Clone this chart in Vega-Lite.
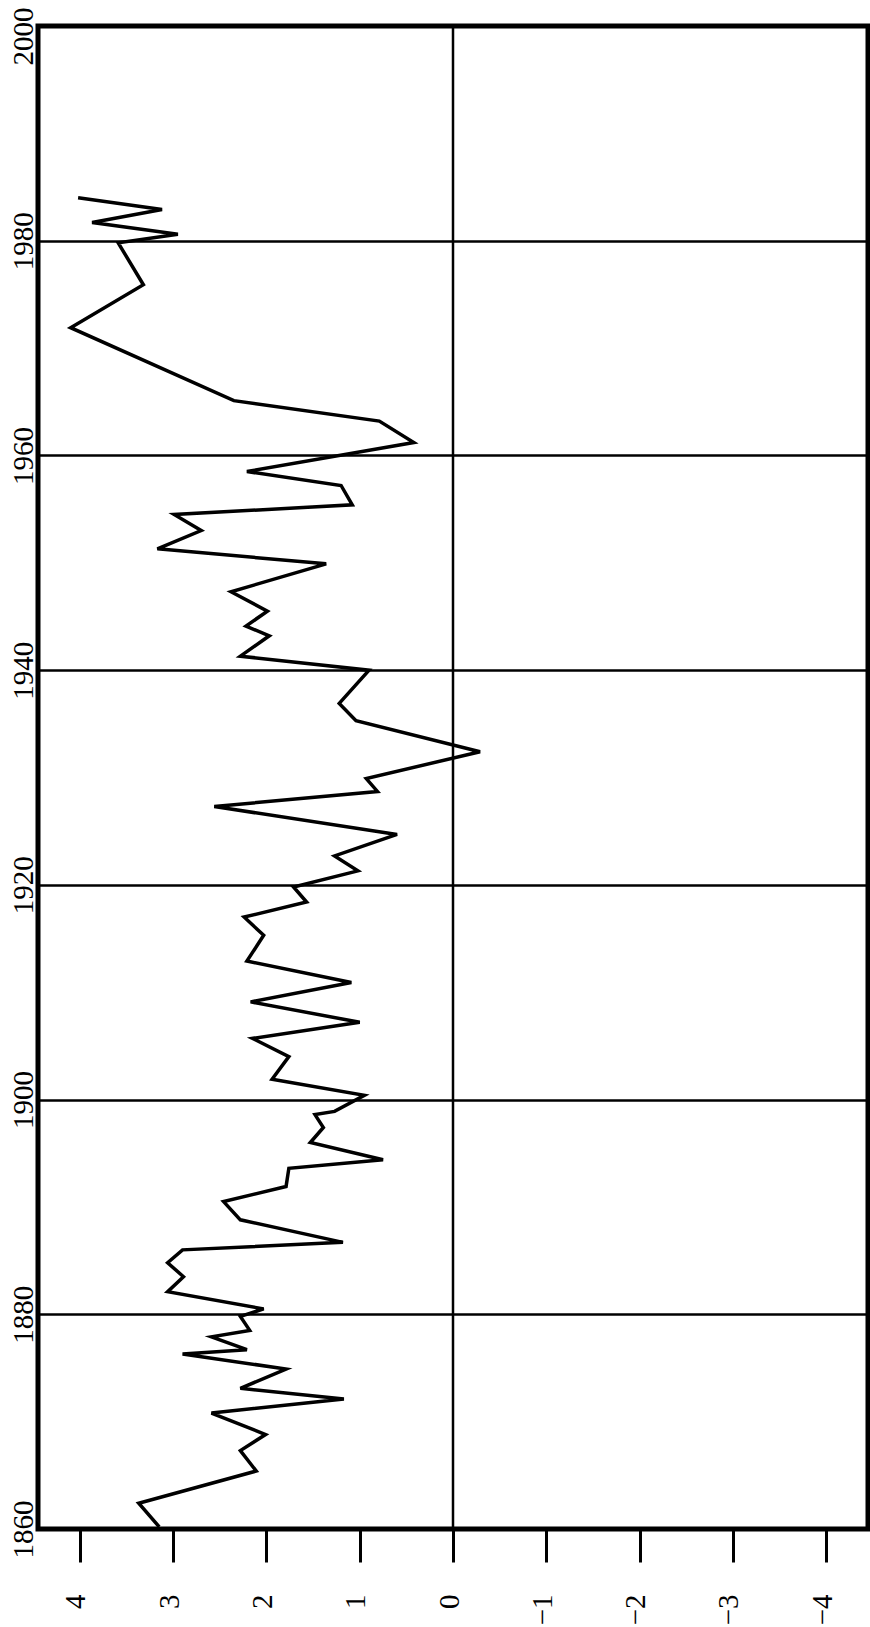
{
  "$schema": "https://vega.github.io/schema/vega-lite/v6.json",
  "width": 830,
  "height": 1503,
  "autosize": {"type": "none"},
  "padding": {"left": 38, "top": 26, "right": 2, "bottom": 98},
  "background": "white",
  "config": {"view": {"stroke": "black", "strokeWidth": 5}, "font": "Liberation Serif"},
  "data": {"values": [
    {"year": 1860.2, "value": 3.15},
    {"year": 1862.4, "value": 3.37},
    {"year": 1865.4, "value": 2.11},
    {"year": 1867.3, "value": 2.28},
    {"year": 1868.8, "value": 2.01},
    {"year": 1870.8, "value": 2.59},
    {"year": 1872.1, "value": 1.17},
    {"year": 1873.1, "value": 2.28},
    {"year": 1874.9, "value": 1.79},
    {"year": 1876.3, "value": 2.90},
    {"year": 1876.7, "value": 2.21},
    {"year": 1877.9, "value": 2.59},
    {"year": 1878.5, "value": 2.18},
    {"year": 1879.8, "value": 2.28},
    {"year": 1880.5, "value": 2.03},
    {"year": 1882.1, "value": 3.06},
    {"year": 1883.5, "value": 2.89},
    {"year": 1884.8, "value": 3.06},
    {"year": 1886.0, "value": 2.90},
    {"year": 1886.7, "value": 1.18},
    {"year": 1888.8, "value": 2.28},
    {"year": 1890.5, "value": 2.46},
    {"year": 1891.9, "value": 1.79},
    {"year": 1893.6, "value": 1.76},
    {"year": 1894.4, "value": 0.75},
    {"year": 1896.0, "value": 1.53},
    {"year": 1897.4, "value": 1.39},
    {"year": 1898.6, "value": 1.48},
    {"year": 1898.9, "value": 1.27},
    {"year": 1900.4, "value": 0.95},
    {"year": 1901.9, "value": 1.94},
    {"year": 1904.0, "value": 1.76},
    {"year": 1905.7, "value": 2.15},
    {"year": 1907.2, "value": 1.00},
    {"year": 1909.1, "value": 2.17},
    {"year": 1910.9, "value": 1.09},
    {"year": 1912.9, "value": 2.21},
    {"year": 1915.3, "value": 2.03},
    {"year": 1917.0, "value": 2.24},
    {"year": 1918.4, "value": 1.57},
    {"year": 1919.8, "value": 1.71},
    {"year": 1921.3, "value": 1.02},
    {"year": 1922.7, "value": 1.27},
    {"year": 1924.7, "value": 0.60},
    {"year": 1927.3, "value": 2.56},
    {"year": 1928.7, "value": 0.81},
    {"year": 1929.9, "value": 0.93},
    {"year": 1932.4, "value": -0.29},
    {"year": 1935.3, "value": 1.04},
    {"year": 1936.9, "value": 1.22},
    {"year": 1940.0, "value": 0.90},
    {"year": 1941.3, "value": 2.28},
    {"year": 1943.2, "value": 1.97},
    {"year": 1944.1, "value": 2.22},
    {"year": 1945.5, "value": 1.99},
    {"year": 1947.3, "value": 2.38},
    {"year": 1949.9, "value": 1.36},
    {"year": 1951.3, "value": 3.17},
    {"year": 1953.0, "value": 2.70},
    {"year": 1954.5, "value": 2.99},
    {"year": 1955.4, "value": 1.08},
    {"year": 1957.2, "value": 1.20},
    {"year": 1958.5, "value": 2.21},
    {"year": 1961.2, "value": 0.42},
    {"year": 1963.2, "value": 0.79},
    {"year": 1965.1, "value": 2.35},
    {"year": 1971.9, "value": 4.10},
    {"year": 1975.9, "value": 3.32},
    {"year": 1979.8, "value": 3.59},
    {"year": 1980.6, "value": 2.95},
    {"year": 1981.7, "value": 3.87},
    {"year": 1982.9, "value": 3.12},
    {"year": 1984.0, "value": 4.02}
  ]},
  "layer": [
    {
      "data": {"values": [{"zero": 0}]},
      "mark": {"type": "rule", "color": "black", "strokeWidth": 2.5},
      "encoding": {
        "x": {"field": "zero", "type": "quantitative", "scale": {"domain": [-4.45, 4.45], "reverse": true, "nice": false, "zero": false}}
      }
    },
    {
      "mark": {"type": "line", "color": "black", "strokeWidth": 3.5, "strokeJoin": "miter"},
      "encoding": {
        "x": {
          "field": "value", "type": "quantitative",
          "scale": {"domain": [-4.45, 4.45], "reverse": true, "nice": false, "zero": false},
          "axis": {
            "orient": "bottom", "values": [-4, -3, -2, -1, 0, 1, 2, 3, 4], "format": "d",
            "grid": false, "domain": false, "title": null,
            "tickSize": 33, "tickWidth": 3, "tickColor": "black",
            "labelAngle": 270, "labelAlign": "right", "labelBaseline": "middle",
            "labelPadding": 32, "labelFontSize": 29, "labelFont": "Liberation Serif", "labelColor": "black",
            "labelFlush": false, "labelOverlap": false, "labelBound": false, "labelOffset": -4
          }
        },
        "y": {
          "field": "year", "type": "quantitative",
          "scale": {"domain": [1860, 2000], "nice": false, "zero": false},
          "axis": {
            "orient": "left", "values": [1860, 1880, 1900, 1920, 1940, 1960, 1980, 2000], "format": "d",
            "grid": true, "gridColor": "black", "gridWidth": 2.5, "gridOpacity": 1,
            "ticks": false, "tickSize": 0, "domain": false, "title": null,
            "labelAngle": 270, "labelAlign": "center", "labelBaseline": "alphabetic",
            "labelPadding": 6, "labelFontSize": 29, "labelFont": "Liberation Serif", "labelColor": "black",
            "labelFlush": false, "labelOverlap": false, "labelBound": false,
            "labelOffset": {"condition": {"test": "datum.value == 2000", "value": 10}, "value": 0}
          }
        },
        "order": {"field": "year", "type": "quantitative"}
      }
    }
  ]
}
